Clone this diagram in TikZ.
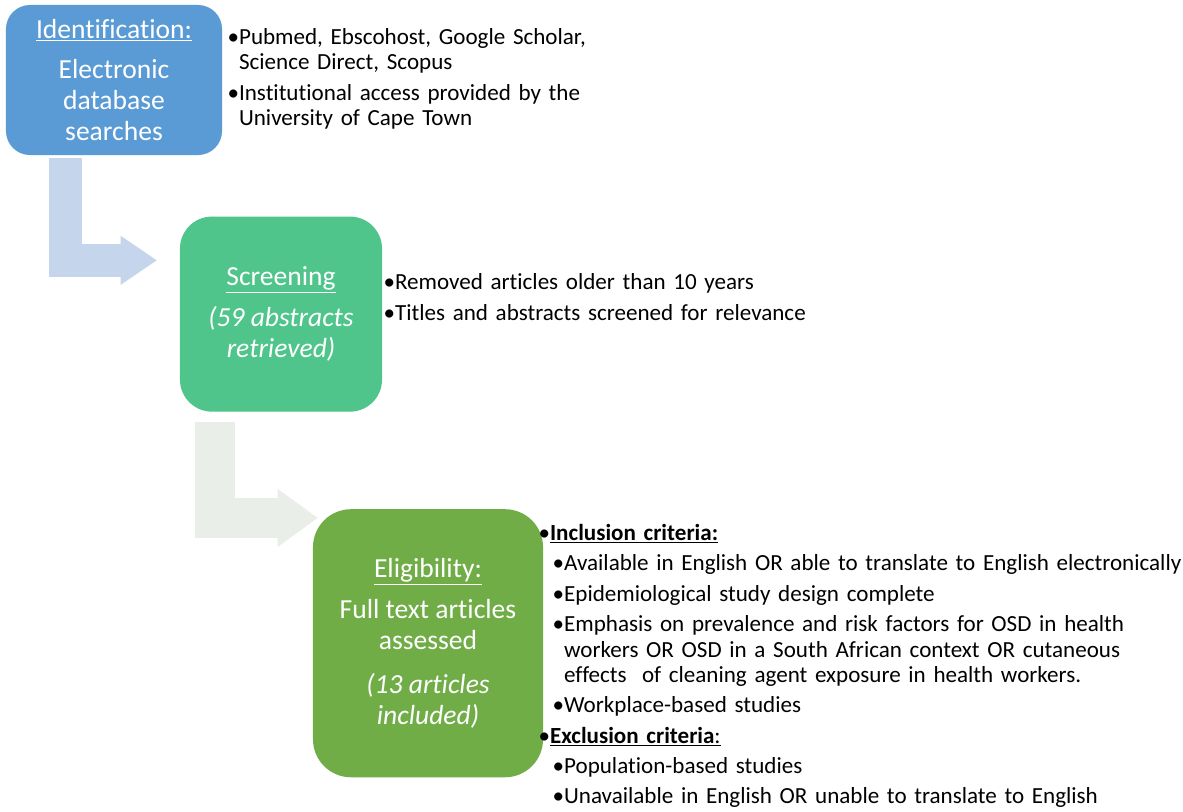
\documentclass[tikz,border=0pt]{standalone}
\usepackage{fontspec}
\setmainfont{Carlito}[Ligatures=NoCommon]
\usetikzlibrary{positioning, calc, arrows.meta}

\definecolor{identblue}{HTML}{5B9BD5}
\definecolor{screengreen}{HTML}{4FC48B}
\definecolor{eliggreen}{HTML}{70AD47}
\definecolor{arrowblue}{HTML}{C5D5EB}
\definecolor{arrowgreen}{HTML}{E9EFE8}

\pgfdeclarelayer{paper}
\pgfdeclarelayer{bg}
\pgfsetlayers{paper,bg,main}

\tikzset{
    stage/.style={
        rectangle, fill=#1, text=white, align=center, inner sep=0pt,
        font=\fontsize{19.6}{22}\selectfont
    },
    notes/.style={
        anchor=north west, inner sep=0pt, text width=#1, align=left,
        font=\fontsize{16.4}{18}\selectfont\setlength{\parskip}{3.6pt}
    },
    bentarrow/.style={line cap=butt, line join=miter}
}

% bullet items, text after the bullet hangs
\newcommand{\lvlone}[1]{\par\setbox0=\hbox{\textbullet}\hangindent=\wd0\hangafter=1\noindent\box0 #1}
\newcommand{\lvltwo}[1]{\par\setbox0=\hbox{\textbullet}\hangindent=\dimexpr\wd0+10pt\relax\hangafter=1\noindent\hspace*{10pt}\box0 #1}

\begin{document}
\begin{tikzpicture}[x=0.025cm, y=-0.025cm]
    \useasboundingbox (0,0) rectangle (1183,811);

    % Stages
    \node[stage=identblue, minimum width=5.4cm, minimum height=3.75cm, rounded corners=0.6cm] (ident) at (114,80) {
        \underline{Identification:}\\[7pt]
        Electronic\\
        database\\
        searches
    };

    \node[stage=screengreen, minimum width=5.05cm, minimum height=4.875cm, rounded corners=0.8cm, anchor=north west] (screen) at ($(ident.south west)+(174,61)$) {
        \underline{Screening}\\[7pt]
        \textit{(59 abstracts}\\
        \textit{retrieved)}
    };

    \node[stage=eliggreen, minimum width=5.75cm, minimum height=6.7cm, rounded corners=0.95cm, anchor=north west] (elig) at ($(screen.south west)+(133,97)$) {
        \underline{Eligibility:}\\[7pt]
        Full text articles\\
        assessed\\[9pt]
        \textit{(13 articles}\\
        \textit{included)}
    };

    % Notes beside each stage
    \node[notes=9.5cm] (identnotes) at ($(ident.north east)+(5,9)$) {
        \lvlone{Pubmed, Ebscohost, Google Scholar,\newline Science Direct, Scopus}
        \lvlone{Institutional access provided by the\newline University of Cape Town}\par
    };

    \node[notes=11cm] (screennotes) at ($(screen.north east)+(1,43)$) {
        \lvlone{Removed articles older than 10 years}
        \lvlone{Titles and abstracts screened for relevance}\par
    };

    \node[notes=17cm] (eligNotes) at ($(elig.north east)+(-5,1)$) {
        \lvlone{\underline{\textbf{Inclusion criteria:}}}
        \lvltwo{Available in English OR able to translate to English electronically}
        \lvltwo{Epidemiological study design complete}
        \lvltwo{Emphasis on prevalence and risk factors for OSD in health\newline workers OR OSD in a South African context OR cutaneous\newline effects\ \ of cleaning agent exposure in health workers.}
        \lvltwo{Workplace-based studies}
        \lvlone{\underline{\textbf{Exclusion criteria}:}}
        \lvltwo{Population-based studies}
        \lvltwo{Unavailable in English OR unable to translate to English}\par
    };

    % Bent arrows between stages
    \begin{pgfonlayer}{paper}
        \fill[white] (0,0) rectangle (1183,811);
    \end{pgfonlayer}
    \begin{pgfonlayer}{bg}
        \draw[bentarrow, line width=0.825cm, arrowblue, -{Triangle[length=0.9cm, width=1.225cm, line width=0pt]}]
            ($(ident.south west)+(60,3)$) |- ($(screen.north west)+(-23,44)$);
        \draw[bentarrow, line width=1cm, arrowgreen, -{Triangle[length=1cm, width=1.45cm, line width=0pt]}]
            ($(screen.south west)+(35.5,10)$) |- ($(elig.north west)+(5,9)$);
    \end{pgfonlayer}

\end{tikzpicture}
\end{document}
